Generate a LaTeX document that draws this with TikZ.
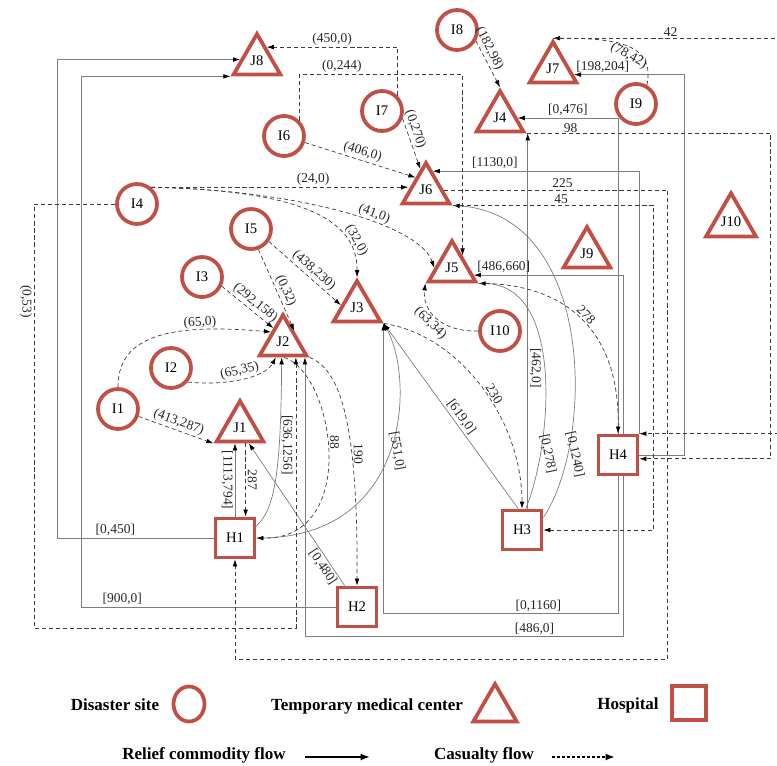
\documentclass[tikz,border=0pt]{standalone}
\usepackage{fontspec}
\setmainfont{Liberation Serif}
\usetikzlibrary{shapes.geometric,arrows.meta}
\definecolor{sitered}{RGB}{192,80,70}
\definecolor{flowgray}{RGB}{125,125,125}
\definecolor{casgray}{RGB}{60,60,60}

\begin{document}
\begin{tikzpicture}[x=0.03cm,y=-0.03cm,
    site/.style={circle,draw=sitered,line width=3.2pt,minimum size=1.2cm,inner sep=0pt,font=\fontsize{12.5}{14}\selectfont},
    tmc/.style={regular polygon,regular polygon sides=3,draw=sitered,line width=3.2pt,minimum size=1.62cm,inner sep=0pt,font=\fontsize{12.5}{14}\selectfont},
    hosp/.style={rectangle,draw=sitered,line width=3.2pt,minimum size=1.17cm,inner sep=0pt,font=\fontsize{12.5}{14}\selectfont},
    relief/.style={draw=flowgray,line width=0.6pt,-{Latex[length=6pt,width=4pt,color=black]}},
    casualty/.style={draw=casgray,line width=0.6pt,dash pattern=on 3.5pt off 2.5pt,-{Latex[length=6pt,width=4pt,color=black]}},
    lab/.style={font=\fontsize{11.5}{13}\selectfont,text=black!85,inner sep=1.5pt},
    legtext/.style={font=\fontsize{14.5}{16}\selectfont\bfseries}]

\useasboundingbox (0,0) rectangle (777,766);
\clip (0,0) rectangle (777,766);

\foreach \n/\x/\y in {I1/118/409, I2/171/368, I3/202/277, I4/137/204, I5/251/229,
                      I6/284/136, I7/382/111, I8/457/30, I9/636/104, I10/500/331}
    \node[site] (\n) at (\x,\y) {\n};

\foreach \n/\x/\y in {J1/240/428, J2/283/342, J3/357/308, J4/500/118, J5/452/268,
                      J6/426/190, J7/553/69, J8/257/61, J9/587/254, J10/731/222}
    \node[tmc] (\n) at (\x,\y) {\n};

\foreach \n/\x/\y in {H1/235/538, H2/357/607, H3/522/530, H4/618/455}
    \node[hosp] (\n) at (\x,\y) {\n};

% relief commodity flow
\draw[relief] (H1.west) -- node[lab,above,pos=0.63] (f1) {[0,450]} ++(-156,0) |- (J8.175);
\draw[relief] (H2.west) -- node[lab,above,pos=0.84] (f2) {[900,0]} ++(-254,0) |- (J8.corner 2);
\draw[relief] (H1.north) -- node[lab,pos=0.5,rotate=-90,anchor=north] (f3) {[1113,794]} (H1.north |- J1.south);
\draw[relief] (H1.30) .. controls (275,510) and (281,470) .. (J2.-95)
    node[lab,pos=0.68,rotate=-90,anchor=south] (f4) {[636,1256]};
\draw[relief] (H2.120) -- node[lab,sloped,below,pos=0.16] (f5) {[0,480]} (J1.-60);
\draw[relief] (H1.east) .. controls (410,540) and (415,380) .. (J3.corner 3)
    node[lab,pos=0.5,rotate=-80,anchor=south] (f6) {[551,0]};
\draw[relief] (H3.100) -- node[lab,sloped,above,pos=0.47] (f7) {[619,0]} (J3.corner 3);
\draw[relief] (H3.75) -- node[lab,pos=0.375,rotate=-90,anchor=south] (f8) {[462,0]} (H3.75 |- J4.south);
\draw[relief] (H3.80) .. controls (552,445) and (565,285) .. (J5.corner 3)
    node[lab,pos=0.22,rotate=-78,anchor=south] (f9) {[0,278]};
\draw[relief] (H3.30) .. controls (595,440) and (595,215) .. (J6.corner 3)
    node[lab,pos=0.2,rotate=-78,anchor=south] (f10) {[0,1240]};
\draw[relief] (H4.north east) |- node[lab,above,pos=0.85] (f11) {[1130,0]} (J6.70);
\draw[relief] (H4.east) -- ++(45,0) |- node[lab,above,pos=0.87] (f12) {[198,204]} (J7.-15);
\draw[relief] (H4.north) |- node[lab,above,pos=0.75] (f13) {[0,476]} (J4.east);
\draw[relief] (H4.75) |- node[lab,above,pos=0.9] (f14) {[486,660]} (J5.-18);
\draw[relief] (H4.south) -- ++(0,137) -| node[lab,above,pos=0.17] (f15) {[0,1160]} (J3.corner 3);
\draw[relief] (H4.-75) -- ++(0,160) -| node[lab,above,pos=0.14] (f16) {[486,0]} (J2.-35);

% casualty flow
\draw[casualty] (I7.45) |- node[lab,above,pos=0.75] (c1) {(450,0)} (J8.55);
\draw[casualty] (I6.45) -- ++(0,-46) -| node[lab,above,pos=0.13] (c2) {(0,244)} (J5.50);
\draw[casualty] (I6) -- node[lab,sloped,above,pos=0.5] (c3) {(406,0)} (J6.130);
\draw[casualty] (I7.-20) -- node[lab,sloped,above,pos=0.27] (c4) {(0,270)} (J6.105);
\draw[casualty] (I8.-30) -- node[lab,sloped,above,pos=0.25] (c5) {(182,98)} (J4.north);
\draw[casualty] (I9.60) .. controls (655,45) and (620,38) .. (J7.north)
    node[lab,sloped,below,pos=0.45] (c6) {(78,42)};
\draw[casualty] (J7.north) -- node[lab,above,pos=0.5] (c7) {42} ++(235,0) |- (H4.north east);
\draw[casualty] (J4.corner 3) -- node[lab,above,inner sep=0.5pt,pos=0.18] (c8) {98} ++(244,0) |- (H4.-10);
\draw[casualty] (J6.east) -- node[lab,above,pos=0.53] (c9) {225} ++(224,0) -- ++(0,469) -| (H1.south);
\draw[casualty] (J6.corner 3) -- node[lab,above,pos=0.54] (c10) {45} ++(201,0) |- (H3.east);
\draw[casualty] (J5.corner 3) .. controls (565,283) and (620,330) .. (H4.north)
    node[lab,sloped,above,pos=0.5] (c11) {278};
\draw[casualty] (J3.corner 3) .. controls (460,335) and (522,420) .. (H3.north)
    node[lab,sloped,above,pos=0.55] (c12) {230};
\draw[casualty] (J2.-85) .. controls (335,375) and (360,540) .. (H1.east)
    node[lab,pos=0.45,rotate=-90,anchor=south] (c13) {88};
\draw[casualty] (J2.corner 3) .. controls (340,370) and (358,420) .. (H2.north)
    node[lab,pos=0.66,rotate=-90,anchor=south] (c14) {190};
\draw[casualty] (J1.-70) -- node[lab,pos=0.5,rotate=-90,anchor=south] (c15) {287} (J1.-70 |- H1.north);
\draw[casualty] (I1.-20) -- node[lab,sloped,above,pos=0.5] (c16) {(413,287)} (J1.corner 2);
\draw[casualty] (I1.north) .. controls (118,340) and (160,322) .. (J2.140)
    node[lab,sloped,above,pos=0.75,inner sep=0.5pt] (c17) {(65,0)};
\draw[casualty] (I2.-40) .. controls (225,386) and (265,378) .. (J2.-115)
    node[lab,sloped,above,pos=0.5] (c18) {(65,35)};
\draw[casualty] (I3.-25) -- node[lab,sloped,above,pos=0.55] (c19) {(292,158)} (J2.125);
\draw[casualty] (I5.-70) -- node[lab,sloped,above,pos=0.55] (c20) {(0,32)} (J2.45);
\draw[casualty] (I5.-35) -- node[lab,sloped,above,pos=0.55] (c21) {(438,230)} (J3.170);
\draw[casualty] (I4.50) -- node[lab,above,pos=0.63] (c22) {(24,0)} (I4.50 -| J6.west);
\draw[casualty] (I4.50) .. controls (300,190) and (420,225) .. (J5.west)
    node[lab,sloped,above,pos=0.6] (c23) {(41,0)};
\draw[casualty] (I4.50) .. controls (290,190) and (358,215) .. (J3.north)
    node[lab,sloped,above,pos=0.8] (c24) {(32,0)};
\draw[casualty] (I4.west) -- ++(-81,0) -- node[lab,pos=0.23,rotate=-90,anchor=north] (c25) {(0,53)} ++(0,424) -| (J2.-50);
\draw[casualty] (I10.west) .. controls (440,332) and (422,310) .. (J5.corner 2)
    node[lab,sloped,below,pos=0.5] (c26) {(63,34)};

% legend
\node[legtext] (lg1) at (115,705) {Disaster site};
\node[ellipse,draw=sitered,line width=3.2pt,minimum width=0.93cm,minimum height=1.05cm] (lgs) at (189,704) {};
\node[legtext] (lg2) at (367,706) {Temporary medical center};
\node[tmc,minimum size=1.5cm] (lgt) at (495,709) {};
\node[legtext] (lg3) at (628,705) {Hospital};
\node[hosp,minimum size=1.0cm] (lgh) at (689,703) {};
\node[legtext] (lg4) at (204,755) {Relief commodity flow};
\coordinate (ra) at (305,757);
\coordinate (rb) at (370,757);
\draw[line width=1.8pt,-{Latex[length=8pt,width=6pt]}] (ra) -- (rb);
\node[legtext] (lg5) at (484,755) {Casualty flow};
\coordinate (ca) at (552,757);
\coordinate (cb) at (615,757);
\draw[line width=1.8pt,dash pattern=on 2.5pt off 1.8pt,-{Latex[length=8pt,width=6pt]}] (ca) -- (cb);

\end{tikzpicture}
\end{document}
